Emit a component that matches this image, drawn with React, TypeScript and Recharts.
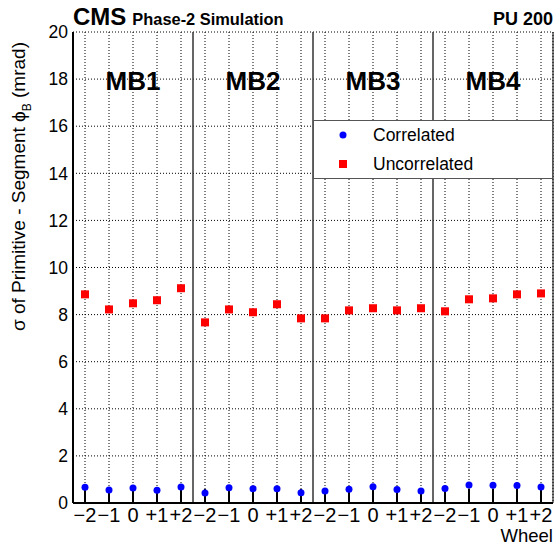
import React from "react";
import {
  ComposedChart,
  Scatter,
  XAxis,
  YAxis,
  CartesianGrid,
  ReferenceLine,
} from "recharts";

const stations = ["MB1", "MB2", "MB3", "MB4"];
const wheels = ["\u22122", "\u22121", "0", "+1", "+2"];
const correlated = [
  0.67, 0.55, 0.64, 0.54, 0.68,
  0.42, 0.65, 0.61, 0.61, 0.44,
  0.51, 0.58, 0.69, 0.57, 0.51,
  0.62, 0.76, 0.75, 0.74, 0.68,
];
const uncorrelated = [
  8.86, 8.22, 8.48, 8.61, 9.12,
  7.67, 8.22, 8.1, 8.44, 7.84,
  7.84, 8.18, 8.27, 8.18, 8.27,
  8.14, 8.65, 8.69, 8.86, 8.9,
];
const yMajor = [0, 2, 4, 6, 8, 10, 12, 14, 16, 18, 20];
const yMinor = Array.from({ length: 51 }, (_, i) => Math.round(i * 0.4 * 10) / 10);

const data = correlated.map((c, i) => ({
  x: i + 0.5,
  corr: c,
  uncorr: uncorrelated[i],
}));
const xTicks = data.map((d) => d.x);
const separators = stations.slice(1).map((_, i) => (i + 1) * wheels.length);

const FONT = "'Liberation Sans', Arial, Helvetica, sans-serif";
const W = 555;
const H = 547;
const PL = 73, PT = 32, PR = 553, PB = 503;

const Circle = (props: any) => {
  const { cx, cy } = props;
  if (cx == null || cy == null) return <g />;
  return <circle cx={cx} cy={cy} r={3.5} fill="#0000ff" />;
};
const Square = (props: any) => {
  const { cx, cy } = props;
  if (cx == null || cy == null) return <g />;
  return <rect x={cx - 4} y={cy - 4} width={8} height={8} fill="#ff0000" />;
};
const Empty = () => <g />;

export default function App() {
  const stationW = (PR - PL) / stations.length;
  return (
    <div style={{ position: "absolute", left: 0, top: 0, width: W, height: H, background: "#fff" }}>
      <ComposedChart
        width={W}
        height={H}
        data={data}
        margin={{ top: PT, right: W - PR, bottom: 14, left: 13 }}
        style={{ fontFamily: FONT }}
      >
        <CartesianGrid
          xAxisId="m"
          yAxisId="m"
          stroke="#000"
          strokeDasharray="1 2"
          strokeWidth={1}
        />
        <XAxis
          xAxisId="m"
          type="number"
          dataKey="x"
          domain={[0, 20]}
          ticks={xTicks}
          interval={0}
          tickFormatter={(v: number) => wheels[Math.floor(v) % wheels.length]}
          height={30}
          tickSize={0}
          tickMargin={5}
          axisLine={{ stroke: "#000", strokeWidth: 2 }}
          tick={{ fill: "#000", fontSize: 20, fontFamily: FONT }}
          allowDataOverflow
        />
        <XAxis
          xAxisId="t"
          type="number"
          dataKey="x"
          domain={[0, 20]}
          ticks={xTicks}
          interval={0}
          mirror
          tickSize={14}
          tick={Empty}
          axisLine={false}
          tickLine={{ stroke: "#000", strokeWidth: 2 }}
        />
        <YAxis
          yAxisId="m"
          domain={[0, 20]}
          ticks={yMajor}
          interval={0}
          width={60}
          tickSize={0}
          tickMargin={5}
          axisLine={{ stroke: "#000", strokeWidth: 2 }}
          tick={{ fill: "#000", fontSize: 17.5, fontFamily: FONT }}
          allowDataOverflow
        />
        <YAxis
          yAxisId="t"
          domain={[0, 20]}
          ticks={yMajor}
          interval={0}
          mirror
          tickSize={14}
          tick={Empty}
          axisLine={false}
          tickLine={{ stroke: "#000", strokeWidth: 1.5 }}
        />
        <YAxis
          yAxisId="n"
          domain={[0, 20]}
          ticks={yMinor}
          interval={0}
          mirror
          tickSize={7}
          tick={Empty}
          axisLine={false}
          tickLine={{ stroke: "#000", strokeWidth: 1.5 }}
        />
        {separators.map((s) => (
          <ReferenceLine key={s} xAxisId="m" yAxisId="m" x={s} stroke="#333" strokeWidth={1.5} />
        ))}
        <ReferenceLine xAxisId="m" yAxisId="m" x={20} stroke="#000" strokeWidth={1} />
        <Scatter
          xAxisId="m"
          yAxisId="m"
          name="Correlated"
          dataKey="corr"
          shape={Circle}
          isAnimationActive={false}
        />
        <Scatter
          xAxisId="m"
          yAxisId="m"
          name="Uncorrelated"
          dataKey="uncorr"
          shape={Square}
          isAnimationActive={false}
        />
      </ComposedChart>
      <svg
        width={W}
        height={H}
        style={{ position: "absolute", left: 0, top: 0, pointerEvents: "none", fontFamily: FONT }}
      >
        <text x={PL} y={25} fontSize={24} fontWeight="bold" fill="#000">
          CMS
          <tspan dx={6} fontSize={16.4}>Phase-2 Simulation</tspan>
        </text>
        <text x={PR} y={25} fontSize={18} fontWeight="bold" fill="#000" textAnchor="end">
          PU 200
        </text>
        {stations.map((s, i) => (
          <text
            key={s}
            x={PL + stationW * (i + 0.5)}
            y={90}
            fontSize={26}
            fontWeight="bold"
            textAnchor="middle"
            fill="#000"
          >
            {s}
          </text>
        ))}
        <text x={PR} y={542} fontSize={18.5} textAnchor="end" fill="#000">
          Wheel
        </text>
        <text transform="rotate(-90)" x={-42} y={25} fontSize={19} textAnchor="end" fill="#000">
          σ of Primitive - Segment ϕ
          <tspan dy={6} fontSize={12}>B</tspan>
          <tspan dy={-6}> (mrad)</tspan>
        </text>
        <rect x={313.5} y={120.5} width={239} height={58} fill="#fff" stroke="#555" strokeWidth={1} />
        <circle cx={343} cy={135} r={3.5} fill="#0000ff" />
        <text x={373} y={141} fontSize={17.5} fill="#000">Correlated</text>
        <rect x={339} y={160} width={8} height={8} fill="#ff0000" />
        <text x={373} y={170} fontSize={17.5} fill="#000">Uncorrelated</text>
      </svg>
    </div>
  );
}
